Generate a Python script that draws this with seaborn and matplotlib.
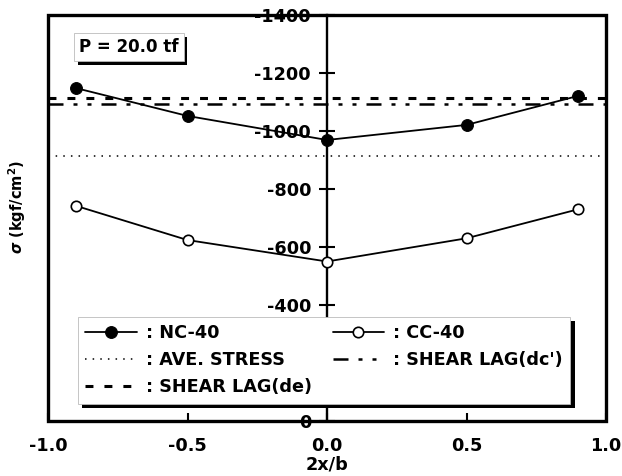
import numpy as np
import pandas as pd
import matplotlib
matplotlib.use("Agg")
import matplotlib.pyplot as plt
import matplotlib.patheffects as pe
from matplotlib.patches import Rectangle
import seaborn as sns

# Stress distribution across the flange width
x_pos = [-0.9, -0.5, 0.0, 0.5, 0.9]
nc40 = [-1148, -1052, -969, -1021, -1121]
cc40 = [-742, -624, -550, -630, -730]
ave_stress = -914
shear_lag_de = -1113
shear_lag_dc = -1093

x_ticks = [-1.0, -0.5, 0.0, 0.5, 1.0]
y_ticks = [0, -200, -400, -600, -800, -1000, -1200, -1400]
# the -200 label sits behind the legend box, so it is left blank
y_tick_labels = ["0", "", "-400", "-600", "-800", "-1000", "-1200", "-1400"]
load_label = "P = 20.0 tf"

sns.set_style("white")
plt.rcParams["font.family"] = ["DejaVu Sans"]
plt.rcParams["font.weight"] = "bold"
plt.rcParams["axes.unicode_minus"] = False
plt.rcParams["mathtext.fontset"] = "dejavusans"
for key in ["text.color", "axes.labelcolor", "xtick.color", "ytick.color",
            "xtick.labelcolor", "ytick.labelcolor", "legend.labelcolor"]:
    plt.rcParams[key] = "black"

df = pd.DataFrame({"x": x_pos, "NC-40": nc40, "CC-40": cc40})

fig = plt.figure(figsize=(6.22, 4.76), dpi=100)
ax = fig.add_axes([48 / 622, 1 - 421 / 476, 558 / 622, 406 / 476])

sns.lineplot(data=df, x="x", y="NC-40", ax=ax, color="black", lw=1.3,
             marker="o", markersize=8.5, markerfacecolor="black",
             markeredgecolor="black", label=": NC-40", zorder=3)
sns.lineplot(data=df, x="x", y="CC-40", ax=ax, color="black", lw=1.3,
             marker="o", markersize=7.5, markerfacecolor="white",
             markeredgecolor="black", markeredgewidth=1.2,
             label=": CC-40", zorder=3)

ax.axhline(ave_stress, color="black", lw=1.1, ls=(0, (1, 4)),
           label=": AVE. STRESS", zorder=2)
ax.axhline(shear_lag_dc, color="black", lw=1.8, ls=(0, (6, 4, 1.6, 4, 1.6, 4)),
           label=": SHEAR LAG(dc')", zorder=2)
ax.axhline(shear_lag_de, color="black", lw=2.2, ls=(0, (2.6, 3.6)),
           label=": SHEAR LAG(de)", zorder=2)

ax.set_xlim(-1.0, 1.0)
ax.set_ylim(0, -1400)
ax.set_xticks(x_ticks)
ax.set_xticklabels([f"{v:.1f}" for v in x_ticks])
ax.set_yticks(y_ticks)
ax.set_yticklabels(y_tick_labels)

# y axis runs through the centre of the flange
for side in ["top", "right", "bottom"]:
    ax.spines[side].set_visible(False)
ax.spines["left"].set_position(("data", 0))
ax.spines["left"].set_linewidth(1.7)
ax.spines["left"].set_color("black")
ax.add_patch(Rectangle((0, 0), 1, 1, transform=ax.transAxes, fill=False,
                       lw=2.4, edgecolor="black", clip_on=False, zorder=6))

ax.tick_params(axis="y", direction="inout", length=11, width=1.5,
               labelsize=12.7, pad=6, colors="black", left=True)
ax.tick_params(axis="x", direction="in", length=6, width=1.5,
               labelsize=12.7, pad=11.5, colors="black", bottom=True)

ax.set_xlabel("2x/b", fontsize=12.7, fontweight="bold", labelpad=0.5)
ax.set_ylabel(r"$\sigma$ (kgf/cm$^\mathbf{2}$)", fontsize=10.5, fontweight="bold")
ax.yaxis.set_label_coords(-0.036, 0.527)

handles, labels = ax.get_legend_handles_labels()
order = [": NC-40", ": AVE. STRESS", ": SHEAR LAG(de)", ": CC-40", ": SHEAR LAG(dc')"]
hmap = dict(zip(labels, handles))
leg = ax.legend([hmap[k] for k in order], order, ncol=2, loc="upper left",
                bbox_to_anchor=(0.0538, 0.256), borderaxespad=0,
                prop={"weight": "bold", "size": 12.7}, handlelength=2.9,
                handletextpad=0.55, columnspacing=1.15, labelspacing=0.5,
                borderpad=0.42, frameon=True, fancybox=False,
                edgecolor="#bbbbbb", framealpha=1)
leg.get_frame().set_linewidth(0.6)
leg.get_frame().set_path_effects([
    pe.SimplePatchShadow(offset=(3, -3), shadow_rgbFace="black", alpha=1),
    pe.Normal()])
leg.set_zorder(5)

txt = ax.text(0.145, 0.921, load_label, transform=ax.transAxes, ha="center",
              va="center", fontsize=12, fontweight="bold", zorder=5,
              bbox=dict(boxstyle="square,pad=0.3", facecolor="white",
                        edgecolor="#bbbbbb", lw=0.6))
txt.get_bbox_patch().set_path_effects([
    pe.SimplePatchShadow(offset=(2.5, -2.5), shadow_rgbFace="black", alpha=1),
    pe.Normal()])

fig.savefig("out.png", dpi=100)
